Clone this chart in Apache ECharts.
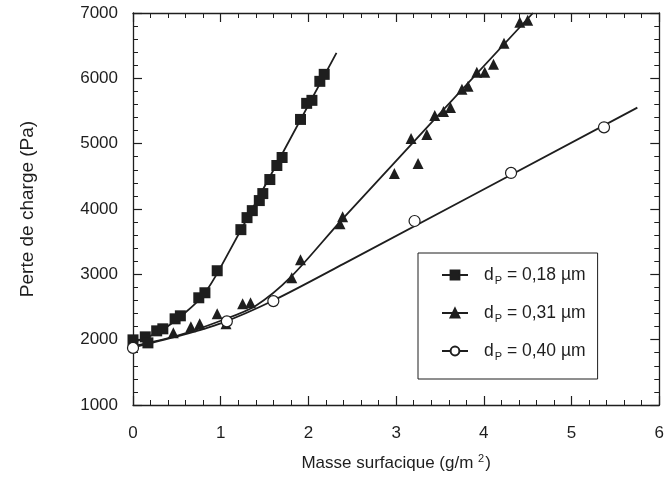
<!DOCTYPE html>
<html><head><meta charset="utf-8">
<script src="https://cdn.jsdelivr.net/npm/echarts@6/dist/echarts.min.js"></script>
<style>html,body{margin:0;padding:0;background:#fff}#c{width:667px;height:477px}</style>
</head><body><div id="c"></div>
<script>
// Data
var names = ['dP = 0,18 µm', 'dP = 0,31 µm', 'dP = 0,40 µm'];
var xTicks = [0, 1, 2, 3, 4, 5, 6];
var yTicks = [1000, 2000, 3000, 4000, 5000, 6000, 7000];
var sqPoints = [[0.0,1997],[0.14,2043],[0.17,1951],[0.27,2135],[0.34,2166],[0.48,2319],[0.54,2365],[0.75,2641],[0.82,2718],[0.96,3055],[1.23,3684],[1.30,3868],[1.36,3975],[1.44,4129],[1.48,4236],[1.56,4451],[1.64,4666],[1.70,4788],[1.91,5371],[1.98,5617],[2.04,5663],[2.13,5954],[2.18,6061]];
var sqFit = [[0,1960],[0.3,2120],[0.6,2420],[0.8,2680],[1.0,3110],[2.32,6390]];
var triPoints = [[0.46,2104],[0.66,2196],[0.76,2242],[0.96,2396],[1.06,2242],[1.25,2549],[1.34,2564],[1.81,2948],[1.91,3224],[2.36,3776],[2.39,3883],[2.98,4543],[3.25,4696],[3.17,5080],[3.35,5141],[3.44,5433],[3.54,5494],[3.62,5555],[3.75,5831],[3.82,5877],[3.92,6092],[4.01,6092],[4.11,6215],[4.23,6537],[4.41,6859],[4.50,6890]];
var triFit = [[0,1900],[0.5,2060],[1.0,2290],[1.4,2520],[1.8,2960],[2.39,3850],[4.56,7000]];
var circPoints = [[0,1874],[1.07,2280],[1.60,2590],[3.21,3816],[4.31,4552],[5.37,5250]];
var circFit = [[0,1880],[0.5,2050],[1.0,2250],[1.6,2600],[2.4,3160],[5.75,5552]];

var ink = '#1e1e1e';
var font = 'Liberation Sans, Arial, sans-serif';
var chart = echarts.init(document.getElementById('c'), null, {renderer: 'canvas'});

function xAx(pos, show) {
  return {
    type: 'value', position: pos, min: xTicks[0], max: xTicks[xTicks.length - 1], interval: 1,
    axisLine: {show: true, onZero: false, lineStyle: {color: ink, width: 1.3}},
    axisTick: {show: true, inside: true, length: 9, lineStyle: {color: ink, width: 1.2}},
    minorTick: {show: true, splitNumber: 5, length: 5, lineStyle: {color: ink, width: 1}},
    splitLine: {show: false},
    axisLabel: {show: show, margin: 20, fontSize: 17, color: ink, fontFamily: font},
    name: show ? 'Masse surfacique (g/m {sup|2})' : '', nameLocation: 'middle', nameGap: 48,
    nameTextStyle: {fontSize: 17, color: ink, fontFamily: font,
      rich: {sup: {fontSize: 11, fontFamily: font, color: ink, verticalAlign: 'top', padding: [0, 1, 9, 0]}}}
  };
}
function yAx(pos, show) {
  return {
    type: 'value', position: pos, min: yTicks[0], max: yTicks[yTicks.length - 1], interval: 1000,
    axisLine: {show: true, onZero: false, lineStyle: {color: ink, width: 1.3}},
    axisTick: {show: true, inside: true, length: 9, lineStyle: {color: ink, width: 1.2}},
    minorTick: {show: true, splitNumber: 5, length: 5, lineStyle: {color: ink, width: 1}},
    splitLine: {show: false},
    axisLabel: {show: show, margin: 15, fontSize: 17, color: ink, fontFamily: font,
      formatter: function (v) { return String(v); }},
    name: show ? 'Perte de charge (Pa)' : '', nameLocation: 'middle', nameGap: 96, nameRotate: 90,
    nameTextStyle: {fontSize: 19, color: ink, fontFamily: font}
  };
}

var symbols = ['rect', 'triangle', 'circle'];
var fills = [ink, ink, '#ffffff'];
var sizes = [11, 11, 11];
var pts = [sqPoints, triPoints, circPoints];
var fits = [sqFit, triFit, circFit];

var series = [];
for (var i = 0; i < 3; i++) {
  series.push({
    type: 'line', name: names[i], data: fits[i], smooth: 0.3, showSymbol: false,
    symbol: symbols[i], symbolSize: sizes[i],
    itemStyle: {color: fills[i], borderColor: ink, borderWidth: 1.2},
    lineStyle: {color: ink, width: 1.8}, z: 2, silent: true
  });
}
for (var j = 0; j < 3; j++) {
  series.push({
    type: 'scatter', name: names[j], data: pts[j], symbol: symbols[j], symbolSize: sizes[j],
    itemStyle: {color: fills[j], borderColor: ink, borderWidth: j === 2 ? 1.2 : 0, opacity: 1}, z: 3
  });
}

chart.setOption({
  animation: false,
  backgroundColor: '#fff',
  grid: {left: 133, right: 7, top: 13, bottom: 72, containLabel: false},
  xAxis: [xAx('bottom', true), xAx('top', false)],
  yAxis: [yAx('left', true), yAx('right', false)],
  legend: {
    data: names, orient: 'vertical', left: 418, top: 253,
    padding: [13, 12, 17, 23], itemGap: 18, itemWidth: 26, itemHeight: 11,
    borderColor: ink, borderWidth: 1, backgroundColor: '#fff',
    formatter: function (n) { return '{d|d}{s|P}{a|' + n.slice(2) + '}'; },
    textStyle: {color: ink, fontFamily: font,
      rich: {d: {fontSize: 17.5, fontFamily: font, color: ink, padding: [0, 0, 0, 11]},
             a: {fontSize: 17.5, fontFamily: font, color: ink},
             s: {fontSize: 11, fontFamily: font, color: ink, verticalAlign: 'bottom', padding: [11, 0, 0, 1]}}}
  },
  series: series
});
</script></body></html>
